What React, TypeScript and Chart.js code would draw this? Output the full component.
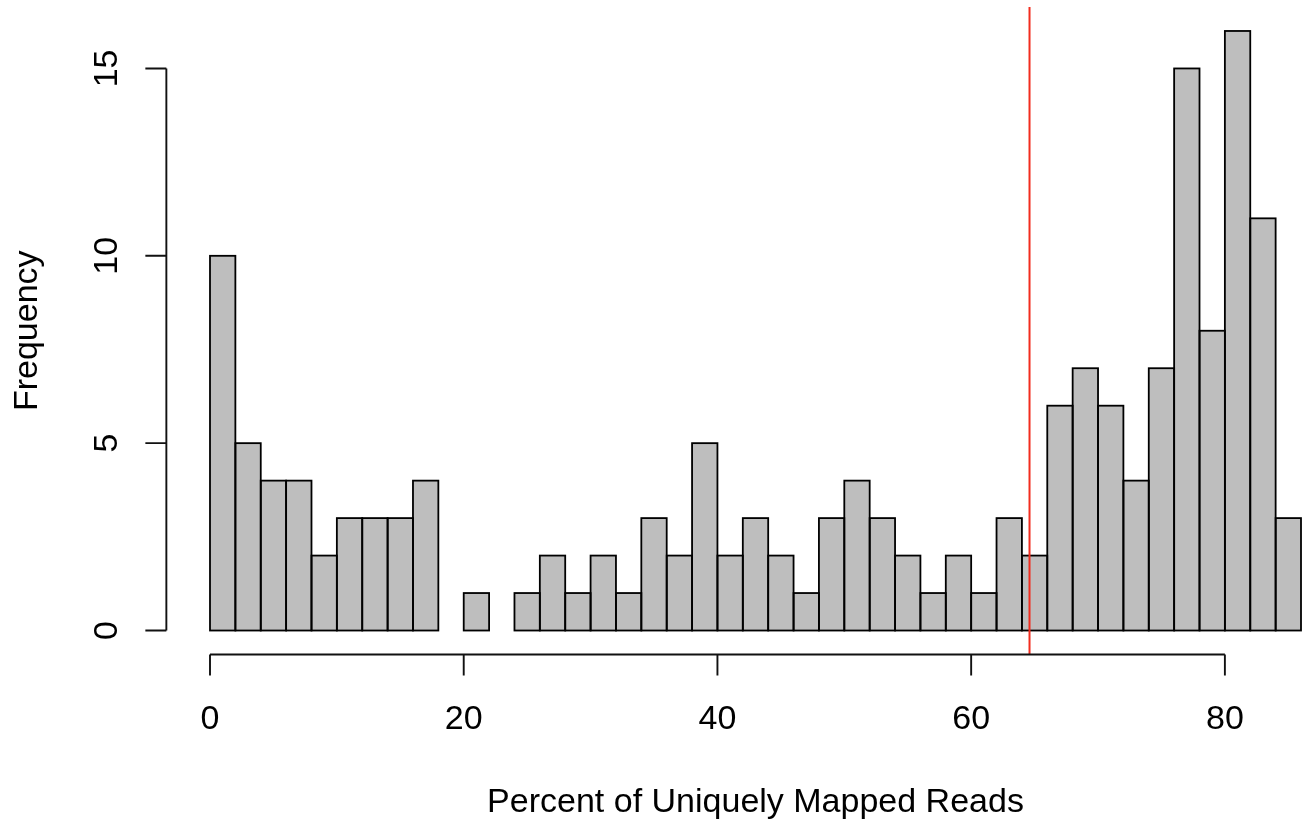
import React, { useEffect, useRef } from "react";
import { Chart, registerables } from "chart.js";

Chart.register(...registerables);

// Histogram bins (width 2) from 0 to 86
const binStarts: number[] = [0, 2, 4, 6, 8, 10, 12, 14, 16, 18, 20, 22, 24, 26, 28, 30, 32, 34, 36, 38, 40, 42, 44, 46, 48, 50, 52, 54, 56, 58, 60, 62, 64, 66, 68, 70, 72, 74, 76, 78, 80, 82, 84];
const binWidth = 2;
const counts: number[] = [10, 5, 4, 4, 2, 3, 3, 3, 4, 0, 1, 0, 1, 2, 1, 2, 1, 3, 2, 5, 2, 3, 2, 1, 3, 4, 3, 2, 1, 2, 1, 3, 2, 6, 7, 6, 4, 7, 15, 8, 16, 11, 3];
const xTicks: number[] = [0, 20, 40, 60, 80];
const yTicks: number[] = [0, 5, 10, 15];
const cutoff = 64.6;
const xTitle = "Percent of Uniquely Mapped Reads";
const yTitle = "Frequency";

const X_MIN = 0;
const X_MAX = 86;
const Y_MIN = -0.64;
const Y_MAX = 16.64;
const X_EXT = (X_MAX - X_MIN) * 0.04;

const FONT = "'Liberation Sans', Arial, Helvetica, sans-serif";

const rAxesPlugin = {
  id: "rAxes",
  afterDatasetsDraw(chart: any) {
    const ctx = chart.ctx as CanvasRenderingContext2D;
    const meta = chart.getDatasetMeta(0);
    ctx.save();
    ctx.strokeStyle = "#000";
    ctx.lineWidth = 1.8;
    for (const el of meta.data) {
      const p = el.getProps(["x", "y", "base", "width"], true);
      if (p.y == null || isNaN(p.y)) continue;
      const left = p.x - p.width / 2;
      const top = Math.min(p.y, p.base);
      const h = Math.abs(p.base - p.y);
      if (h < 0.5) continue;
      ctx.strokeRect(left, top, p.width, h);
    }
    ctx.restore();
  },
  afterDraw(chart: any) {
    const ctx = chart.ctx as CanvasRenderingContext2D;
    const xs = chart.scales.x;
    const ys = chart.scales.y;
    const area = chart.chartArea;
    ctx.save();
    // cutoff line
    ctx.strokeStyle = "#f22c1e";
    ctx.lineWidth = 2;
    const cx = xs.getPixelForValue(cutoff);
    ctx.beginPath();
    ctx.moveTo(cx, area.top);
    ctx.lineTo(cx, area.bottom);
    ctx.stroke();

    ctx.strokeStyle = "#111";
    ctx.lineWidth = 1.9;
    ctx.fillStyle = "#000";
    ctx.font = `34px ${FONT}`;
    const tickLen = 21;

    // x axis
    const axY = ys.getPixelForValue(Y_MIN);
    const x0 = xs.getPixelForValue(xTicks[0]);
    const x1 = xs.getPixelForValue(xTicks[xTicks.length - 1]);
    ctx.beginPath();
    ctx.moveTo(x0, axY);
    ctx.lineTo(x1, axY);
    for (const t of xTicks) {
      const px = xs.getPixelForValue(t);
      ctx.moveTo(px, axY);
      ctx.lineTo(px, axY + tickLen);
    }
    ctx.stroke();
    ctx.textAlign = "center";
    ctx.textBaseline = "alphabetic";
    for (const t of xTicks) {
      ctx.fillText(String(t), xs.getPixelForValue(t), 729);
    }

    // y axis
    const axX = xs.getPixelForValue(X_MIN - X_EXT);
    const yA = ys.getPixelForValue(yTicks[0]);
    const yB = ys.getPixelForValue(yTicks[yTicks.length - 1]);
    ctx.beginPath();
    ctx.moveTo(axX, yA);
    ctx.lineTo(axX, yB);
    for (const t of yTicks) {
      const py = ys.getPixelForValue(t);
      ctx.moveTo(axX, py);
      ctx.lineTo(axX - tickLen, py);
    }
    ctx.stroke();
    for (const t of yTicks) {
      const py = ys.getPixelForValue(t);
      ctx.save();
      ctx.translate(117, py);
      ctx.rotate(-Math.PI / 2);
      ctx.textAlign = "center";
      ctx.fillText(String(t), 0, 0);
      ctx.restore();
    }

    // titles
    ctx.textAlign = "center";
    ctx.fillText(xTitle, (xs.getPixelForValue(X_MIN) + xs.getPixelForValue(X_MAX)) / 2, 812);
    ctx.save();
    ctx.translate(37, (area.top + area.bottom) / 2);
    ctx.rotate(-Math.PI / 2);
    ctx.fillText(yTitle, 0, 0);
    ctx.restore();
    ctx.restore();
  },
};

export default function App() {
  const ref = useRef<HTMLCanvasElement | null>(null);
  useEffect(() => {
    if (!ref.current) return;
    const data = binStarts.map((s, i) => ({ x: s + binWidth / 2, y: counts[i] === 0 ? null : counts[i] }));
    const chart = new Chart(ref.current, {
      type: "bar",
      data: {
        datasets: [
          {
            data: data as any,
            backgroundColor: "#bebebe",
            borderWidth: 0,
            barPercentage: 1,
            categoryPercentage: 1,
          },
        ],
      },
      options: {
        responsive: false,
        animation: false,
        events: [],
        layout: { padding: { left: 210, right: 4, top: 7, bottom: 170.5 } },
        plugins: { legend: { display: false }, tooltip: { enabled: false } },
        scales: {
          x: { type: "linear", min: X_MIN, max: X_MAX, display: false, offset: false },
          y: { type: "linear", min: Y_MIN, max: Y_MAX, display: false },
        },
      },
      plugins: [rAxesPlugin],
    });
    return () => chart.destroy();
  }, []);
  return (
    <div style={{ position: "absolute", left: 0, top: 0, width: 1305, height: 825, background: "#fff" }}>
      <canvas ref={ref} width={1305} height={825} style={{ width: 1305, height: 825 }} />
    </div>
  );
}
